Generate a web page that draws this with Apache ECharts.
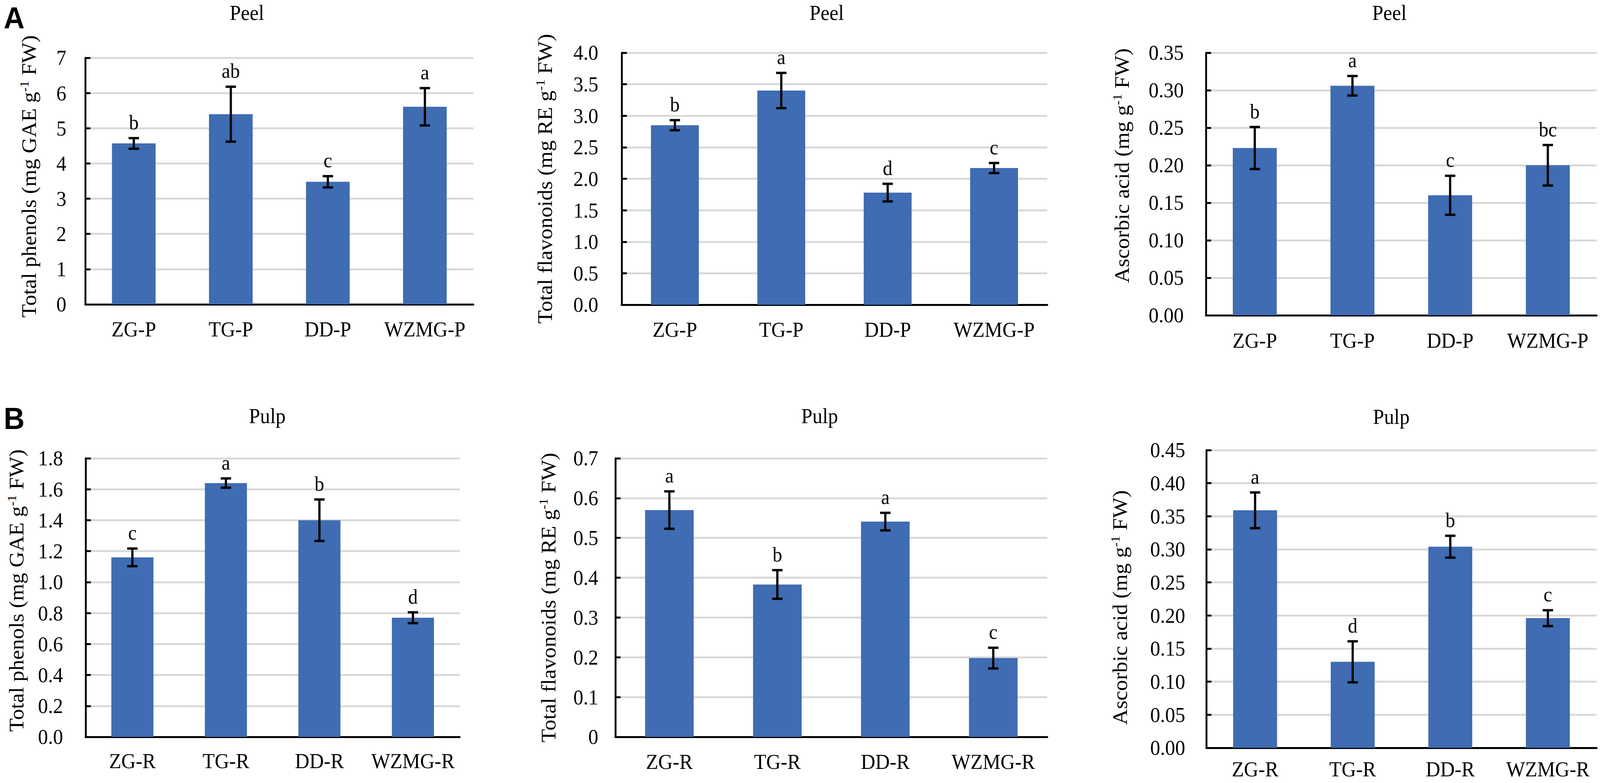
<!DOCTYPE html>
<html>
<head>
<meta charset="utf-8">
<script src="https://cdn.jsdelivr.net/npm/echarts@6/dist/echarts.min.js"></script>
<style>
html, body { margin: 0; padding: 0; background: #fff; overflow: hidden; }
#main { width: 4316px; height: 2004px; transform-origin: 0 0; }
</style>
</head>
<body>
<div id="main"></div>
<script>
// categories
var peelCats = ['ZG-P', 'TG-P', 'DD-P', 'WZMG-P'];
var pulpCats = ['ZG-R', 'TG-R', 'DD-R', 'WZMG-R'];

// A - peel
var peelPhenols = [4.57, 5.40, 3.48, 5.61];
var peelPhenolsErr = [0.15, 0.78, 0.16, 0.53];
var peelPhenolsSig = ['b', 'ab', 'c', 'a'];

var peelFlav = [2.85, 3.40, 1.78, 2.17];
var peelFlavErr = [0.08, 0.28, 0.14, 0.08];
var peelFlavSig = ['b', 'a', 'd', 'c'];

var peelAsa = [0.223, 0.306, 0.160, 0.200];
var peelAsaErr = [0.028, 0.013, 0.026, 0.027];
var peelAsaSig = ['b', 'a', 'c', 'bc'];

// B - pulp
var pulpPhenols = [1.16, 1.64, 1.40, 0.77];
var pulpPhenolsErr = [0.057, 0.03, 0.134, 0.035];
var pulpPhenolsSig = ['c', 'a', 'b', 'd'];

var pulpFlav = [0.570, 0.383, 0.541, 0.198];
var pulpFlavErr = [0.047, 0.036, 0.022, 0.026];
var pulpFlavSig = ['a', 'b', 'a', 'c'];

var pulpAsa = [0.359, 0.130, 0.304, 0.196];
var pulpAsaErr = [0.027, 0.031, 0.0165, 0.012];
var pulpAsaSig = ['a', 'd', 'b', 'c'];

// y axis ranges
var yMax = [7, 4, 0.35, 1.8, 0.7, 0.45];
var yStep = [1, 0.5, 0.05, 0.2, 0.1, 0.05];
var yDigits = [0, 1, 2, 1, -1, 2];

var yNames = [
    'Total phenols (mg GAE g{sup|-1} FW)',
    'Total flavonoids (mg RE g{sup|-1} FW)',
    'Ascorbic acid (mg g{sup|-1} FW)',
    'Total phenols (mg GAE g{sup|-1} FW)',
    'Total flavonoids (mg RE g{sup|-1} FW)',
    'Ascorbic acid (mg g{sup|-1} FW)'
];

var panels = [
    { cats: peelCats, val: peelPhenols, err: peelPhenolsErr, sig: peelPhenolsSig, title: 'Peel' },
    { cats: peelCats, val: peelFlav, err: peelFlavErr, sig: peelFlavSig, title: 'Peel' },
    { cats: peelCats, val: peelAsa, err: peelAsaErr, sig: peelAsaSig, title: 'Peel' },
    { cats: pulpCats, val: pulpPhenols, err: pulpPhenolsErr, sig: pulpPhenolsSig, title: 'Pulp' },
    { cats: pulpCats, val: pulpFlav, err: pulpFlavErr, sig: pulpFlavSig, title: 'Pulp' },
    { cats: pulpCats, val: pulpAsa, err: pulpAsaErr, sig: pulpAsaSig, title: 'Pulp' }
];

// layout of the six plots (pixels, in 4316x2004 figure units)
var boxes = [
    { left: 230, top: 148, width: 1047, height: 631 },
    { left: 1677, top: 135, width: 1148, height: 645 },
    { left: 3253, top: 135, width: 1054, height: 672 },
    { left: 231, top: 1173, width: 1009, height: 713 },
    { left: 1660, top: 1173, width: 1165, height: 713 },
    { left: 3254, top: 1152, width: 1053, height: 762 }
];
var labelMargin = [51, 63, 60, 61, 46, 57];
var catMargin = [37, 37, 38, 35, 37, 28];
var nameGap = [122, 177, 197, 157, 151, 203];
// shifts the y-axis name along the axis (left pad moves it up, right pad moves it down)
var namePad = [[0, 0, 0, 24], [0, 0, 0, 0], [0, 0, 0, 94], [0, 0, 0, 36], [0, 0, 0, 0], [0, 44, 0, 0]];
var titleX = [666, 2230, 3748, 721, 2211, 3753];
var titleY = [6, 6, 6, 1038, 1038, 1040];

var serif = 'Liberation Serif';
var barColor = '#3f6cb2';

// the window can be smaller than the figure, so scale the whole figure to fit it
var el = document.getElementById('main');
var sx = window.innerWidth / 4316, sy = window.innerHeight / 2004;
el.style.transform = 'scale(' + sx + ',' + sy + ')';

var myChart = echarts.init(el, null, { renderer: 'svg', width: 4316, height: 2004 });

function errRender(sig) {
    return function (params, api) {
        var i = api.value(0), v = api.value(1), e = api.value(2);
        var hi = api.coord([i, v + e]);
        var lo = api.coord([i, v - e]);
        var cap = 14;
        var st = { stroke: '#000', lineWidth: 6 };
        return {
            type: 'group',
            children: [
                { type: 'line', shape: { x1: hi[0], y1: hi[1], x2: lo[0], y2: lo[1] }, style: st },
                { type: 'line', shape: { x1: hi[0] - cap, y1: hi[1], x2: hi[0] + cap, y2: hi[1] }, style: st },
                { type: 'line', shape: { x1: lo[0] - cap, y1: lo[1], x2: lo[0] + cap, y2: lo[1] }, style: st },
                {
                    type: 'text',
                    x: hi[0],
                    y: hi[1] - 14,
                    style: {
                        text: sig[params.dataIndex],
                        fill: '#000',
                        font: '52px "Liberation Serif"',
                        align: 'center',
                        verticalAlign: 'bottom'
                    }
                }
            ]
        };
    };
}

var grid = [], xAxis = [], yAxis = [], series = [], title = [];

panels.forEach(function (p, k) {
    var b = boxes[k];
    grid.push({ left: b.left, top: b.top, width: b.width, height: b.height, outerBoundsMode: 'none' });
    xAxis.push({
        type: 'category',
        gridIndex: k,
        data: p.cats,
        axisLine: { lineStyle: { color: '#000', width: 5 } },
        axisTick: { inside: true, length: 14, lineStyle: { color: '#000', width: 5 } },
        axisLabel: { interval: 0, color: '#000', fontFamily: serif, fontSize: 54, margin: catMargin[k] }
    });
    yAxis.push({
        type: 'value',
        gridIndex: k,
        min: 0,
        max: yMax[k],
        interval: yStep[k],
        name: yNames[k],
        nameLocation: 'middle',
        nameGap: nameGap[k],
        nameTextStyle: {
            color: '#000',
            fontFamily: serif,
            fontSize: 56,
            padding: namePad[k],
            rich: {
                sup: { fontFamily: serif, fontSize: 34, color: '#000', padding: [0, 0, 26, 0] }
            }
        },
        axisLine: { show: true, lineStyle: { color: '#000', width: 5 } },
        axisTick: { show: true, inside: true, length: 14, lineStyle: { color: '#000', width: 5 } },
        splitLine: { show: true, lineStyle: { color: '#d9d9d9', width: 5 } },
        axisLabel: {
            color: '#000',
            fontFamily: serif,
            fontSize: 54,
            margin: labelMargin[k],
            formatter: (function (d) {
                return function (v) {
                    return d < 0 ? String(+v.toFixed(2)) : v.toFixed(d);
                };
            })(yDigits[k])
        }
    });
    series.push({
        type: 'bar',
        xAxisIndex: k,
        yAxisIndex: k,
        data: p.val,
        barWidth: '45%',
        itemStyle: { color: barColor },
        z: 2
    });
    series.push({
        type: 'custom',
        xAxisIndex: k,
        yAxisIndex: k,
        renderItem: errRender(p.sig),
        encode: { x: 0, y: 1 },
        data: p.val.map(function (v, i) { return [i, v, p.err[i]]; }),
        z: 4
    });
    title.push({
        text: p.title,
        left: titleX[k],
        top: titleY[k],
        textAlign: 'center',
        padding: 0,
        textStyle: { fontFamily: serif, fontSize: 54, fontWeight: 'normal', color: '#000' }
    });
});

title.push({ text: 'A', left: 10, top: 7, padding: 0,
    textStyle: { fontFamily: 'Liberation Sans', fontSize: 78, fontWeight: 'bold', color: '#000' } });
title.push({ text: 'B', left: 10, top: 1032, padding: 0,
    textStyle: { fontFamily: 'Liberation Sans', fontSize: 78, fontWeight: 'bold', color: '#000' } });

var option = {
    backgroundColor: '#fff',
    animation: false,
    title: title,
    grid: grid,
    xAxis: xAxis,
    yAxis: yAxis,
    series: series
};
myChart.setOption(option);
</script>
</body>
</html>
